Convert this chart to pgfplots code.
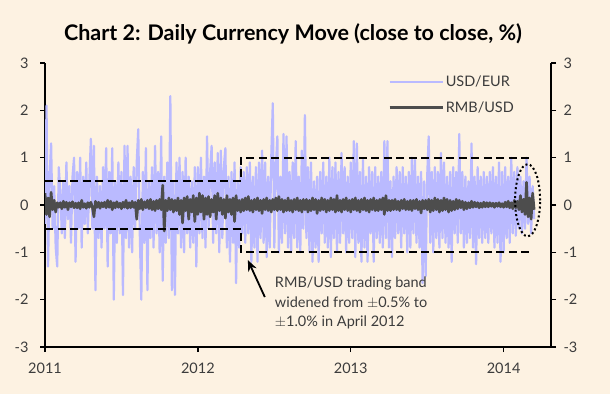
\documentclass[border=0pt]{standalone}
\usepackage{pgfplots}
\usepackage{pgfplotstable}
\pgfplotsset{compat=1.18}
\usetikzlibrary{arrows.meta}
\usepackage{fontspec}
\setmainfont{Lato}
\definecolor{bg}{RGB}{253,242,226}
\definecolor{eur}{RGB}{186,186,255}
\definecolor{rmb}{RGB}{77,77,77}
\definecolor{tickgray}{RGB}{60,60,60}

\pgfplotstableread[row sep=\\]{
v\\
-0.4\\ 2.1\\ -1.3\\ 0.6\\ 1.3\\ -0.5\\ 0.4\\ -0.9\\ -1.3\\ 0.8\\
0.3\\ -0.6\\ 0.5\\ -0.7\\ 0.9\\ -0.3\\ 0.4\\ -0.8\\ 0.6\\ 1.0\\
-1.2\\ 0.7\\ -0.5\\ 1.0\\ -0.9\\ 0.6\\ -0.4\\ 0.9\\ -0.6\\ 0.5\\
1.4\\ -0.5\\ 1.25\\ -1.8\\ 0.6\\ -0.7\\ 0.4\\ -0.9\\ 0.8\\ -0.5\\
1.2\\ -1.3\\ 0.7\\ -0.6\\ 1.2\\ -2.0\\ 0.5\\ -0.8\\ 0.9\\ -0.6\\
0.7\\ -1.9\\ 1.25\\ -0.7\\ 1.25\\ -0.9\\ 0.6\\ -1.0\\ 0.8\\ -0.5\\
0.9\\ 1.6\\ -0.6\\ -2.0\\ 0.7\\ -0.8\\ 1.2\\ -1.8\\ 0.5\\ -0.7\\
0.8\\ -0.9\\ 1.25\\ -0.6\\ 0.7\\ -1.0\\ 1.45\\ -1.6\\ 0.6\\ -0.8\\
0.9\\ -0.7\\ 2.3\\ -1.8\\ 0.5\\ -1.9\\ 0.9\\ -0.6\\ 1.0\\ -0.9\\
0.7\\ -1.0\\ 1.0\\ -0.6\\ 0.6\\ -0.9\\ 0.5\\ -0.8\\ 0.8\\ -1.3\\
0.8\\ -0.6\\ 1.0\\ -0.7\\ 0.6\\ -0.9\\ 1.45\\ -0.5\\ 0.7\\ 1.25\\
-0.8\\ 0.9\\ -0.6\\ 1.1\\ -1.0\\ 1.15\\ -0.7\\ 0.8\\ 1.2\\ -0.9\\
0.6\\ -1.2\\ 0.7\\ -0.8\\ 0.9\\ -1.65\\ 0.5\\ -0.9\\ 0.8\\ -0.6\\
0.7\\ -0.8\\ 0.8\\ -0.6\\ 0.9\\ -1.2\\ 0.6\\ -0.9\\ 0.8\\ -1.2\\
0.9\\ -0.7\\ 1.15\\ -0.8\\ 0.9\\ -1.1\\ 0.6\\ -0.9\\ 1.0\\ 2.15\\
-0.9\\ 0.8\\ 1.45\\ -1.0\\ 0.6\\ -0.8\\ 1.5\\ -0.6\\ 1.45\\ -0.9\\
0.7\\ -1.0\\ 0.9\\ -0.7\\ 1.35\\ -0.9\\ 0.6\\ -1.0\\ 1.15\\ -0.5\\
1.9\\ -0.7\\ 0.8\\ -1.0\\ 0.9\\ -1.2\\ 0.5\\ -0.9\\ 0.6\\ -1.2\\
0.7\\ -0.6\\ 0.9\\ -0.8\\ 0.6\\ -0.9\\ 1.0\\ -1.1\\ 0.8\\ -0.7\\
0.9\\ -1.0\\ 0.7\\ -0.8\\ 1.1\\ -0.6\\ 0.8\\ -1.0\\ 0.6\\ -0.8\\
0.9\\ -0.7\\ 1.35\\ -1.1\\ 1.3\\ -0.8\\ 0.7\\ -1.2\\ 0.95\\ -0.9\\
0.6\\ -1.2\\ 0.8\\ -0.6\\ 0.7\\ -1.2\\ 0.8\\ -0.7\\ 0.6\\ -0.8\\
0.7\\ -0.9\\ 1.35\\ -0.7\\ 1.35\\ -0.9\\ 0.5\\ -1.1\\ 0.6\\ -0.7\\
0.8\\ -0.6\\ 0.7\\ -0.9\\ 0.8\\ -0.6\\ 0.6\\ -1.0\\ 0.7\\ -0.9\\
1.0\\ -0.6\\ 0.95\\ -0.8\\ 0.6\\ -0.9\\ 0.7\\ -1.65\\ 0.5\\ -1.5\\
0.6\\ 1.45\\ -0.8\\ 0.7\\ -1.0\\ 0.8\\ -0.7\\ 0.7\\ -0.9\\ 1.1\\
-0.7\\ 0.9\\ -0.8\\ 0.6\\ -0.9\\ 0.7\\ -1.2\\ 0.8\\ -0.6\\ 0.7\\
-0.8\\ 1.5\\ -0.6\\ 0.7\\ -0.9\\ 0.6\\ -0.8\\ 0.5\\ -0.7\\ 1.3\\
-0.9\\ 0.6\\ -1.25\\ 0.8\\ -0.7\\ 0.6\\ -0.8\\ 0.7\\ -0.7\\ 0.6\\
-0.8\\ 0.7\\ -0.6\\ 0.8\\ -0.9\\ 0.6\\ -0.8\\ 0.9\\ -1.2\\ 0.7\\
-1.0\\ 0.8\\ -0.7\\ 0.6\\ -0.8\\ 1.0\\ -0.6\\ 0.7\\ -0.65\\ 0.8\\
-0.5\\ 0.6\\ -0.6\\ 0.5\\ -0.5\\ 1.0\\ -0.4\\ 0.6\\ -0.6\\ 0.4\\
-0.3\\
}\eurdata

\pgfplotstableread[row sep=\\]{
v\\
0.25\\ -0.2\\ 0.15\\ -0.25\\ 0.27\\ -0.1\\ 0.1\\ -0.15\\ 0.05\\ -0.05\\
0.05\\ -0.08\\ 0.08\\ -0.05\\ 0.06\\ -0.1\\ 0.05\\ -0.04\\ 0.07\\ -0.06\\
0.04\\ -0.06\\ 0.05\\ -0.08\\ 0.1\\ -0.05\\ 0.03\\ -0.07\\ 0.05\\ -0.05\\
0.06\\ -0.05\\ -0.25\\ 0.08\\ -0.05\\ 0.06\\ -0.07\\ 0.05\\ -0.04\\ 0.06\\
-0.06\\ 0.1\\ -0.05\\ 0.08\\ -0.1\\ 0.05\\ -0.06\\ 0.07\\ -0.05\\ 0.04\\
-0.08\\ 0.06\\ -0.05\\ 0.1\\ -0.07\\ 0.05\\ -0.06\\ 0.08\\ -0.05\\ 0.06\\
-0.3\\ 0.1\\ -0.08\\ 0.12\\ -0.1\\ 0.07\\ -0.06\\ 0.1\\ -0.08\\ 0.12\\
-0.1\\ 0.08\\ -0.12\\ 0.1\\ -0.08\\ 0.12\\ -0.1\\ 0.42\\ -0.55\\ 0.1\\
-0.12\\ 0.15\\ -0.1\\ 0.12\\ -0.15\\ 0.1\\ -0.12\\ 0.15\\ -0.2\\ 0.1\\
-0.38\\ 0.15\\ -0.12\\ 0.18\\ -0.3\\ 0.12\\ -0.15\\ 0.2\\ -0.35\\ 0.15\\
-0.2\\ 0.25\\ -0.15\\ 0.2\\ -0.3\\ 0.15\\ -0.2\\ 0.18\\ -0.25\\ 0.12\\
-0.15\\ 0.2\\ -0.3\\ 0.25\\ -0.12\\ 0.15\\ -0.2\\ 0.12\\ -0.28\\ 0.2\\
-0.15\\ 0.12\\ -0.2\\ 0.15\\ -0.35\\ 0.2\\ -0.12\\ 0.1\\ -0.15\\ 0.12\\
-0.12\\ 0.15\\ -0.1\\ 0.18\\ -0.12\\ 0.1\\ -0.15\\ 0.12\\ -0.1\\ 0.15\\
-0.12\\ 0.1\\ -0.18\\ 0.12\\ -0.1\\ 0.15\\ -0.12\\ 0.1\\ -0.15\\ 0.12\\
-0.1\\ 0.15\\ -0.12\\ 0.18\\ -0.1\\ 0.12\\ -0.15\\ 0.1\\ -0.12\\ 0.15\\
-0.12\\ 0.1\\ -0.15\\ 0.12\\ -0.1\\ 0.15\\ -0.12\\ 0.1\\ -0.15\\ 0.12\\
-0.1\\ 0.12\\ -0.15\\ 0.1\\ -0.12\\ 0.15\\ -0.1\\ 0.12\\ -0.18\\ 0.1\\
-0.12\\ 0.15\\ -0.1\\ 0.12\\ -0.15\\ 0.1\\ -0.12\\ 0.15\\ -0.1\\ 0.12\\
-0.15\\ 0.2\\ -0.12\\ 0.1\\ -0.15\\ 0.12\\ -0.1\\ 0.15\\ -0.12\\ 0.1\\
-0.15\\ 0.12\\ -0.1\\ 0.15\\ -0.12\\ 0.1\\ -0.15\\ 0.12\\ -0.1\\ 0.15\\
-0.12\\ 0.1\\ -0.15\\ 0.12\\ -0.1\\ 0.15\\ -0.12\\ 0.1\\ -0.12\\ 0.12\\
-0.1\\ 0.15\\ -0.2\\ 0.2\\ -0.12\\ 0.1\\ -0.12\\ 0.1\\ -0.1\\ 0.12\\
-0.1\\ 0.08\\ -0.12\\ 0.1\\ -0.08\\ 0.12\\ -0.1\\ 0.08\\ -0.1\\ 0.1\\
-0.12\\ 0.1\\ -0.08\\ 0.12\\ -0.1\\ 0.08\\ -0.17\\ 0.1\\ -0.08\\ 0.1\\
-0.1\\ 0.12\\ -0.15\\ 0.1\\ -0.12\\ 0.15\\ -0.1\\ 0.12\\ -0.15\\ 0.1\\
-0.12\\ 0.15\\ -0.1\\ 0.12\\ -0.15\\ 0.1\\ -0.12\\ 0.08\\ -0.1\\ 0.12\\
-0.08\\ 0.1\\ -0.06\\ 0.08\\ -0.1\\ 0.06\\ -0.08\\ 0.05\\ -0.06\\ 0.08\\
-0.05\\ 0.06\\ -0.04\\ 0.05\\ -0.06\\ 0.04\\ -0.05\\ 0.06\\ -0.04\\ 0.05\\
-0.04\\ 0.05\\ -0.03\\ 0.04\\ -0.05\\ 0.04\\ -0.03\\ 0.05\\ -0.04\\ 0.03\\
-0.05\\ 0.06\\ -0.04\\ 0.08\\ -0.06\\ 0.05\\ -0.08\\ 0.1\\ -0.06\\ 0.08\\
-0.1\\ 0.2\\ -0.15\\ 0.12\\ -0.2\\ 0.48\\ -0.25\\ 0.15\\ -0.3\\ 0.25\\
-0.1\\
}\rmbdata

\begin{document}
\begin{tikzpicture}
\fill[bg] (-45bp,-47bp) rectangle (565bp,347bp);
\begin{axis}[
  name=main,
  scale only axis, width=506bp, height=284bp,
  at={(0,0)}, anchor=south west,
  xmin=2011, xmax=2014.31, ymin=-3, ymax=3,
  axis x line*=bottom, axis y line*=left,
  axis line style={line width=2bp, black, -},
  tick style={line width=1.5bp, black},
  major tick length=5bp, tick align=outside,
  xtick={2011,2012,2013,2014}, xticklabels={2011,2012,2013,2014},
  ytick={-3,-2,-1,0,1,2,3}, yticklabels={-3,-2,-1,0,1,2,3},
  ticklabel style={font=\fontsize{14.5bp}{17bp}\selectfont, text=tickgray},
  yticklabel style={xshift=-8bp},
  xticklabel style={yshift=-7bp},
  legend style={draw=none, fill=none, at={(rel axis cs:0.672,0.968)}, anchor=north west,
    font=\fontsize{14.5bp}{17bp}\selectfont, text=tickgray, row sep=9bp},
  legend cell align=left,
  legend image code/.code={\draw[#1] (0bp,0bp) -- (53bp,0bp);},
]
\addplot[eur, line width=2.2bp, line join=round] table[x expr=2011+\coordindex*0.01, y=v] {\eurdata};
\addlegendentry{USD/EUR}
\addplot[rmb, line width=2.6bp, line join=round] table[x expr=2011+\coordindex*0.01, y=v] {\rmbdata};
\addlegendentry{RMB/USD}

\draw[black, line width=1.8bp, dash pattern=on 8bp off 4.5bp]
  (axis cs:2011,0.5) -- (axis cs:2012.28,0.5) -- (axis cs:2012.28,1) -- (axis cs:2014.18,1);
\draw[black, line width=1.8bp, dash pattern=on 8bp off 4.5bp]
  (axis cs:2011,-0.5) -- (axis cs:2012.28,-0.5) -- (axis cs:2012.28,-1) -- (axis cs:2014.18,-1);
\draw[black, line width=2bp, dash pattern=on 2bp off 2.5bp]
  (axis cs:2014.157,0.1) ellipse [x radius=12.5bp, y radius=36bp];
\draw[black, line width=1.8bp, -{Stealth[length=11bp,width=9bp]}]
  (axis cs:2012.438,-1.945) -- (axis cs:2012.327,-1.163);
\node[anchor=north west, align=left, inner sep=0pt, text=tickgray,
  font=\fontsize{14.5bp}{19.5bp}\selectfont]
  at (axis cs:2012.503,-1.522) {RMB/USD trading band\\widened from \(\pm\)0.5\% to\\\(\pm\)1.0\% in April 2012};
\end{axis}
\begin{axis}[
  scale only axis, width=506bp, height=284bp,
  at={(0,0)}, anchor=south west,
  xmin=2011, xmax=2014.31, ymin=-3, ymax=3,
  axis x line=none, axis y line*=right,
  axis line style={line width=2bp, black, -},
  tick style={line width=1.5bp, black},
  major tick length=5bp, tick align=outside,
  ytick={-3,-2,-1,0,1,2,3}, yticklabels={-3,-2,-1,0,1,2,3},
  ticklabel style={font=\fontsize{14.5bp}{17bp}\selectfont, text=tickgray},
  yticklabel style={xshift=4bp},
]
\end{axis}
\node[anchor=base, font=\fontsize{21.5bp}{24bp}\selectfont\bfseries]
  at (248bp,306bp) {Chart 2: Daily Currency Move (close to close, \%)};
\end{tikzpicture}
\end{document}
